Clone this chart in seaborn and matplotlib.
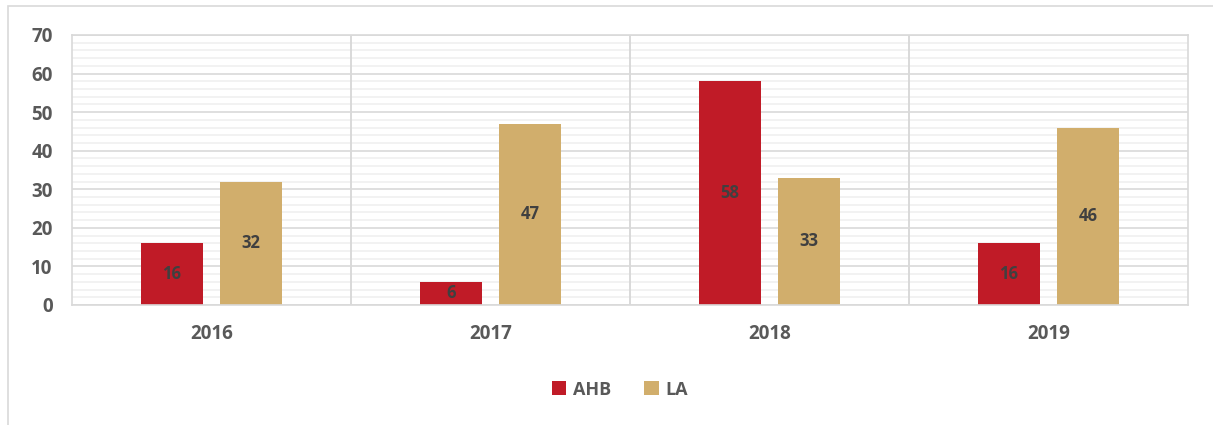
import pandas as pd
import matplotlib.pyplot as plt
import seaborn as sns
from matplotlib.patches import Rectangle
from matplotlib.ticker import MultipleLocator

years = ["2016", "2017", "2018", "2019"]
ahb = [16, 6, 58, 16]
la = [32, 47, 33, 46]
series = ["AHB", "LA"]
colors = ["#C01B27", "#D1AE6C"]
text_color = "#595959"

df = pd.DataFrame({
    "year": years * 2,
    "value": ahb + la,
    "series": [series[0]] * len(years) + [series[1]] * len(years),
})

sns.set_style("white")
plt.rcParams["font.family"] = ["Open Sans", "DejaVu Sans"]
plt.rcParams["font.weight"] = "bold"

fig = plt.figure(figsize=(12.13, 4.25), dpi=100)
ax = fig.add_axes([72 / 1213, 1 - 305 / 425, (1188 - 72) / 1213, 270 / 425])

sns.barplot(data=df, x="year", y="value", hue="series", palette=colors,
            saturation=1, width=0.566, gap=0.215, ax=ax, legend=True,
            linewidth=0, zorder=2)

ax.set_ylim(0, 70)
ax.set_xlim(-0.5, len(years) - 0.5)
ax.yaxis.set_major_locator(MultipleLocator(10))
ax.yaxis.set_minor_locator(MultipleLocator(2))
ax.grid(axis="y", which="major", color="#D9D9D9", linewidth=1.2, zorder=0)
ax.grid(axis="y", which="minor", color="#F0F0F0", linewidth=1.2, zorder=0)
ax.set_axisbelow(True)
for i in range(1, len(years)):
    ax.axvline(i - 0.5, color="#D9D9D9", linewidth=1.4, zorder=1)
for s in ax.spines.values():
    s.set_color("#D9D9D9")
    s.set_linewidth(1.2)

ax.set_xlabel("")
ax.set_ylabel("")
ax.tick_params(axis="both", length=0, labelsize=13.5, labelcolor=text_color)
ax.tick_params(axis="x", pad=14)
ax.tick_params(axis="y", pad=14)
for lab in ax.get_xticklabels() + ax.get_yticklabels():
    lab.set_fontweight("bold")

for cont in ax.containers:
    ax.bar_label(cont, label_type="center", fontsize=12, fontweight="bold",
                 color="#404040")

ax.legend(loc="upper center", bbox_to_anchor=(0.491, -0.22), ncol=2,
          frameon=False, handlelength=0.8, handleheight=0.8, handletextpad=0.4,
          columnspacing=1.8, prop={"size": 13, "weight": "bold"},
          labelcolor=text_color)

fig.patches.append(Rectangle((8 / 1213, -0.1), 1.2, 1 - 6 / 425 + 0.1,
                             transform=fig.transFigure, fill=False,
                             edgecolor="#D9D9D9", linewidth=1.2))

fig.savefig("out.png", dpi=100)
